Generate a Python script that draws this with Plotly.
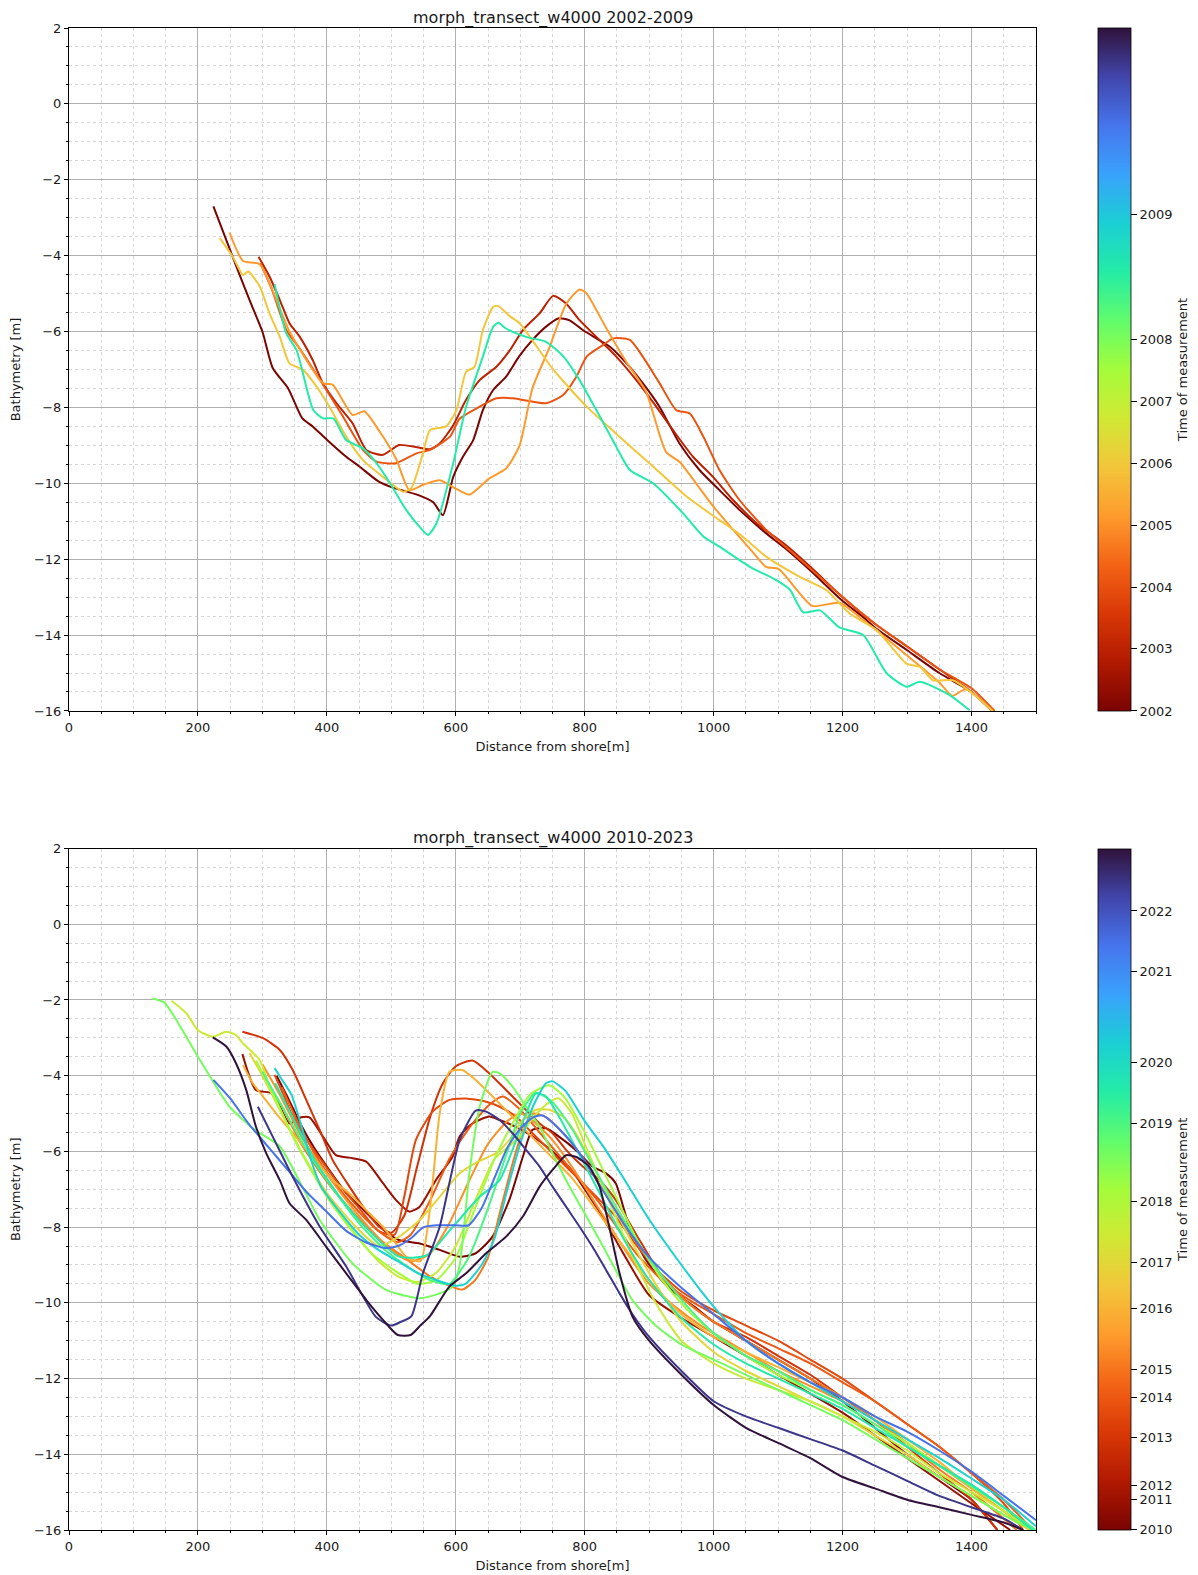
import plotly.graph_objects as go
from plotly.colors import sample_colorscale, sequential

# ---------------- DATA ----------------
top_title = "morph_transect_w4000 2002-2009"
bot_title = "morph_transect_w4000 2010-2023"

top_cbar_years = ["2002", "2003", "2004", "2005", "2006", "2007", "2008", "2009"]
top_cbar_pos = [0.0, 0.091, 0.181, 0.272, 0.363, 0.453, 0.544, 0.7265]
bot_cbar_years = ["2010", "2011", "2012", "2013", "2014", "2015", "2016", "2017",
                  "2018", "2019", "2020", "2021", "2022"]
bot_cbar_pos = [0.0, 0.0442, 0.0648, 0.1355, 0.1944, 0.2356, 0.3255, 0.3932,
                0.4816, 0.5965, 0.6863, 0.8203, 0.9087]

# ---- top panel (2002-2009) ----
t2002_x = [224, 260, 282, 300, 316, 340, 362, 378, 400, 430, 450, 480, 500, 540, 565, 580, 596, 611, 627, 642, 658, 678, 698, 719, 740, 760, 776, 797, 818, 839, 865, 890, 916, 947, 978, 1009, 1040, 1080, 1110, 1150, 1200, 1230, 1250, 1300, 1350, 1400, 1432]
t2002_y = [-2.7, -4.3, -5.25, -6.0, -6.96, -7.5, -8.29, -8.5, -8.85, -9.3, -9.55, -9.95, -10.1, -10.3, -10.5, -10.84, -9.83, -9.3, -8.86, -8.07, -7.54, -7.19, -6.66, -6.22, -5.87, -5.65, -5.7, -5.96, -6.18, -6.4, -6.84, -7.36, -7.98, -8.95, -9.65, -10.18, -10.7, -11.3, -11.7, -12.3, -13.1, -13.5, -13.8, -14.4, -15.0, -15.5, -16.0]

t2003_x = [294, 311, 327, 342, 358, 378, 394, 415, 440, 461, 487, 512, 540, 560, 575, 595, 616, 637, 663, 684, 704, 730, 751, 771, 792, 818, 849, 880, 911, 937, 968, 999, 1030, 1070, 1110, 1150, 1200, 1250, 1300, 1350, 1400, 1432]
t2003_y = [-4.03, -4.55, -5.17, -5.78, -6.14, -6.75, -7.37, -7.89, -8.42, -9.12, -9.25, -8.99, -9.05, -9.1, -8.95, -8.5, -7.8, -7.28, -6.93, -6.49, -5.96, -5.52, -5.06, -5.26, -5.7, -6.14, -6.66, -7.28, -7.98, -8.6, -9.3, -9.83, -10.44, -11.1, -11.6, -12.2, -13.0, -13.7, -14.3, -14.9, -15.5, -16.0]

t2004_x = [297, 315, 337, 360, 394, 425, 456, 477, 507, 539, 560, 591, 606, 637, 663, 689, 740, 766, 787, 803, 828, 844, 870, 890, 916, 942, 963, 984, 1009, 1040, 1080, 1120, 1160, 1200, 1250, 1300, 1350, 1400, 1436]
t2004_y = [-4.2, -4.9, -5.96, -6.5, -7.4, -8.24, -9.12, -9.43, -9.47, -9.21, -9.12, -8.77, -8.3, -7.98, -7.76, -7.76, -7.89, -7.68, -7.19, -6.66, -6.36, -6.18, -6.22, -6.66, -7.36, -8.07, -8.16, -8.77, -9.65, -10.44, -11.2, -11.8, -12.4, -13.0, -13.7, -14.3, -14.9, -15.4, -16.0]

t2005_x = [249, 270, 296, 342, 394, 409, 440, 458, 482, 507, 528, 549, 575, 600, 621, 652, 678, 699, 719, 745, 771, 792, 802, 833, 864, 895, 926, 947, 967, 998, 1029, 1060, 1081, 1101, 1153, 1195, 1237, 1288, 1350, 1370, 1391, 1432]
t2005_y = [-3.39, -4.14, -4.23, -6.0, -7.36, -7.4, -8.2, -8.1, -8.64, -9.34, -10.18, -10.04, -9.92, -10.14, -10.3, -9.87, -9.61, -9.0, -7.49, -6.43, -5.28, -4.89, -4.98, -5.9, -6.79, -7.58, -9.17, -9.43, -9.87, -10.58, -11.2, -11.8, -12.2, -12.26, -13.23, -13.15, -13.67, -14.37, -15.25, -15.6, -15.43, -16.0]

t2006_x = [234, 254, 270, 278, 296, 311, 327, 342, 363, 384, 404, 430, 456, 487, 518, 531, 549, 560, 585, 601, 616, 629, 642, 658, 666, 684, 699, 751, 803, 854, 906, 958, 1009, 1041, 1082, 1133, 1175, 1211, 1253, 1299, 1320, 1340, 1371, 1402, 1433]
t2006_y = [-3.54, -4.03, -4.51, -4.42, -4.82, -5.52, -6.14, -6.84, -7.01, -7.45, -7.98, -8.77, -9.39, -9.83, -10.22, -10.13, -9.21, -8.6, -8.5, -8.07, -7.06, -6.93, -5.96, -5.35, -5.33, -5.6, -5.78, -7.0, -7.98, -8.77, -9.56, -10.35, -10.97, -11.35, -11.94, -12.46, -12.82, -13.43, -13.87, -14.75, -14.84, -15.19, -15.19, -15.54, -16.0]

t2008_x = [319, 337, 353, 379, 394, 410, 430, 456, 477, 498, 523, 544, 557, 570, 596, 616, 642, 658, 666, 678, 709, 740, 767, 792, 818, 849, 870, 906, 953, 984, 1009, 1056, 1097, 1118, 1139, 1165, 1195, 1232, 1268, 1299, 1320, 1366, 1397]
t2008_y = [-4.75, -6.05, -6.49, -8.07, -8.29, -8.29, -8.86, -9.08, -9.47, -10.0, -10.7, -11.15, -11.36, -11.06, -9.47, -7.98, -6.66, -5.87, -5.77, -5.92, -6.14, -6.27, -6.66, -7.28, -8.07, -9.04, -9.65, -10.0, -10.8, -11.4, -11.67, -12.2, -12.55, -12.8, -13.4, -13.35, -13.8, -14.0, -15.0, -15.36, -15.23, -15.58, -15.98]

# ---- bottom panel (2010-2023) ----
b2010_x = [269, 290, 316, 342, 360, 373, 394, 414, 440, 461, 487, 507, 528, 544, 569, 595, 606, 626, 652, 668, 693, 719, 750, 780, 800, 830, 860, 900, 950, 1000, 1050, 1100, 1150, 1200, 1250, 1300, 1350, 1400, 1460]
b2010_y = [-3.43, -4.38, -4.47, -5.26, -5.1, -5.1, -5.61, -6.1, -6.18, -6.27, -6.84, -7.28, -7.59, -7.46, -6.76, -6.14, -5.6, -5.26, -5.08, -5.17, -5.35, -5.6, -6.0, -6.5, -7.0, -7.8, -8.7, -9.8, -10.4, -10.9, -11.4, -11.9, -12.4, -12.9, -13.5, -14.1, -14.7, -15.3, -16.0]

b2011_x = [322, 340, 360, 380, 400, 430, 460, 490, 512, 544, 575, 606, 631, 657, 683, 704, 719, 740, 760, 786, 812, 833, 848, 869, 895, 930, 970, 1000, 1050, 1100, 1150, 1200, 1250, 1300, 1350, 1400, 1440]
b2011_y = [-4.0, -4.6, -5.3, -5.9, -6.4, -7.1, -7.6, -8.1, -8.34, -8.43, -8.6, -8.78, -8.69, -8.25, -7.28, -6.14, -5.43, -5.39, -5.61, -5.96, -6.4, -6.58, -6.84, -7.99, -8.87, -9.6, -10.1, -10.5, -11.0, -11.5, -12.0, -12.6, -13.3, -14.0, -14.6, -15.2, -16.0]

b2012_x = [269, 301, 327, 347, 368, 389, 409, 435, 456, 481, 500, 520, 540, 560, 580, 600, 626, 652, 678, 709, 730, 750, 771, 797, 823, 848, 880, 920, 960, 1000, 1050, 1100, 1150, 1200, 1250, 1300, 1350, 1400, 1440]
b2012_y = [-2.84, -3.01, -3.32, -3.85, -4.64, -5.44, -6.23, -6.93, -7.46, -7.99, -8.15, -7.7, -6.4, -5.1, -4.2, -3.75, -3.6, -3.94, -4.38, -4.91, -5.26, -5.52, -5.96, -6.4, -6.76, -7.28, -8.2, -9.3, -10.0, -10.5, -10.9, -11.4, -11.9, -12.5, -13.1, -13.8, -14.5, -15.2, -16.0]

b2013_x = [319, 330, 345, 365, 390, 420, 450, 480, 505, 520, 538, 564, 590, 616, 647, 668, 693, 719, 745, 771, 797, 823, 848, 874, 910, 950, 1000, 1050, 1100, 1150, 1200, 1250, 1300, 1350, 1400, 1450, 1480]
b2013_y = [-3.98, -4.4, -5.0, -5.6, -6.2, -6.9, -7.5, -8.1, -8.2, -7.2, -5.7, -4.95, -4.64, -4.6, -4.69, -4.82, -5.08, -5.52, -5.96, -6.4, -6.84, -7.28, -7.72, -8.34, -9.1, -9.7, -10.2, -10.6, -11.0, -11.5, -12.0, -12.6, -13.2, -13.8, -14.5, -15.3, -16.0]

b2014_x = [330, 360, 390, 420, 450, 480, 510, 530, 560, 590, 620, 650, 673, 700, 730, 760, 790, 820, 850, 880, 920, 960, 1000, 1050, 1100, 1150, 1200, 1250, 1300, 1350, 1400, 1450, 1495]
b2014_y = [-4.3, -5.4, -6.3, -7.0, -7.6, -8.1, -8.4, -8.2, -7.3, -6.2, -5.4, -4.8, -4.55, -4.9, -5.5, -6.1, -6.7, -7.3, -8.0, -8.7, -9.4, -9.9, -10.3, -10.8, -11.2, -11.6, -12.1, -12.6, -13.2, -13.8, -14.5, -15.2, -16.0]

b2015_x = [300, 330, 360, 400, 440, 480, 520, 560, 590, 610, 630, 650, 670, 690, 705, 720, 740, 760, 790, 820, 850, 880, 920, 960, 1000, 1050, 1100, 1150, 1200, 1250, 1300, 1350, 1400, 1450, 1470]
b2015_y = [-4.0, -4.8, -5.8, -6.8, -7.6, -8.3, -8.8, -9.3, -9.55, -9.65, -9.4, -8.8, -7.5, -6.2, -5.4, -5.0, -5.1, -5.4, -6.0, -6.8, -7.6, -8.4, -9.3, -10.0, -10.5, -11.0, -11.5, -12.0, -12.5, -13.1, -13.7, -14.4, -15.0, -15.7, -16.0]

b2015b_x = [300, 330, 360, 400, 440, 470, 500, 530, 560, 590, 620, 650, 680, 700, 720, 750, 780, 810, 840, 870, 900, 940, 980, 1020, 1060, 1100, 1150, 1200, 1250, 1300, 1350, 1400, 1450, 1490]
b2015b_y = [-3.7, -4.6, -5.6, -6.6, -7.5, -8.1, -8.6, -8.9, -8.7, -7.9, -6.8, -5.8, -5.2, -5.0, -5.2, -5.7, -6.4, -7.2, -8.0, -8.8, -9.5, -10.1, -10.6, -11.0, -11.4, -11.8, -12.2, -12.6, -13.1, -13.7, -14.3, -14.9, -15.5, -16.0]

b2016_x = [270, 285, 301, 321, 347, 378, 409, 435, 461, 487, 507, 523, 545, 560, 575, 590, 610, 630, 660, 700, 740, 780, 820, 860, 900, 950, 1000, 1050, 1100, 1150, 1200, 1250, 1300, 1350, 1400, 1450, 1490]
b2016_y = [-3.72, -4.2, -4.55, -4.99, -5.52, -6.14, -6.76, -7.11, -7.55, -7.99, -8.43, -8.78, -8.9, -7.5, -5.0, -3.9, -3.85, -4.1, -4.6, -5.3, -6.0, -6.7, -7.6, -8.5, -9.4, -10.3, -10.9, -11.3, -11.7, -12.1, -12.5, -13.0, -13.6, -14.2, -14.9, -15.5, -16.0]

b2017_x = [280, 300, 330, 360, 400, 440, 480, 512, 544, 575, 606, 631, 662, 683, 704, 724, 745, 766, 786, 810, 840, 870, 910, 950, 1000, 1050, 1100, 1150, 1200, 1250, 1300, 1350, 1400, 1450, 1490]
b2017_y = [-3.4, -4.0, -5.0, -6.0, -7.1, -7.9, -8.5, -8.25, -7.81, -7.2, -6.58, -6.3, -6.05, -5.7, -5.17, -4.9, -4.9, -5.08, -5.52, -6.3, -7.3, -8.3, -9.5, -10.5, -11.3, -11.8, -12.2, -12.6, -13.0, -13.5, -14.0, -14.6, -15.1, -15.6, -16.0]

b2017b_x = [159, 182, 200, 223, 244, 259, 270, 296, 311, 330, 360, 400, 440, 480, 510, 540, 570, 600, 630, 660, 680, 700, 720, 745, 760, 780, 800, 830, 870, 910, 950, 1000, 1050, 1100, 1150, 1200, 1250, 1300, 1350, 1400, 1450, 1495]
b2017b_y = [-2.02, -2.35, -2.8, -2.97, -2.84, -2.93, -3.15, -3.59, -4.29, -5.0, -6.0, -7.2, -8.1, -8.9, -9.3, -9.45, -9.2, -8.5, -7.3, -6.2, -5.9, -5.6, -5.1, -4.7, -4.6, -5.0, -5.8, -7.0, -8.6, -10.0, -11.0, -11.6, -12.0, -12.3, -12.6, -13.0, -13.4, -13.9, -14.5, -15.0, -15.5, -16.0]

b2018_x = [290, 320, 350, 390, 430, 470, 510, 540, 570, 600, 630, 660, 690, 715, 745, 770, 800, 840, 880, 920, 960, 1000, 1050, 1100, 1150, 1200, 1250, 1300, 1350, 1400, 1450, 1495]
b2018_y = [-3.6, -4.6, -5.7, -6.9, -7.9, -8.7, -9.2, -9.5, -9.4, -8.8, -7.5, -6.2, -5.2, -4.5, -4.25, -4.6, -5.5, -6.9, -8.3, -9.4, -10.2, -10.8, -11.4, -11.9, -12.3, -12.7, -13.2, -13.7, -14.3, -14.85, -15.4, -16.0]

b2018b_x = [129, 148, 200, 249, 290, 327, 389, 440, 492, 544, 575, 595, 606, 621, 637, 657, 668, 688, 709, 730, 750, 771, 797, 823, 848, 874, 910, 950, 1000, 1050, 1100, 1150, 1200, 1250, 1300, 1350, 1400, 1450, 1495]
b2018b_y = [-1.96, -2.07, -3.5, -4.82, -5.45, -5.87, -7.81, -8.96, -9.66, -9.88, -9.75, -9.57, -9.0, -6.58, -4.82, -3.9, -3.94, -4.29, -4.82, -5.35, -6.05, -6.76, -7.55, -8.34, -9.13, -9.93, -10.6, -11.1, -11.5, -11.9, -12.3, -12.7, -13.1, -13.6, -14.1, -14.6, -15.1, -15.6, -16.0]

b2019_x = [300, 330, 370, 410, 450, 490, 530, 560, 590, 620, 650, 680, 700, 724, 750, 780, 810, 850, 890, 930, 970, 1000, 1050, 1100, 1150, 1200, 1250, 1300, 1350, 1400, 1450, 1500]
b2019_y = [-3.9, -4.8, -6.0, -7.0, -7.9, -8.6, -9.1, -9.4, -9.5, -8.8, -7.5, -6.0, -5.0, -4.45, -4.7, -5.4, -6.3, -7.5, -8.6, -9.5, -10.3, -10.8, -11.4, -11.8, -12.3, -12.7, -13.2, -13.8, -14.3, -14.85, -15.4, -16.0]

b2019b_x = [320, 350, 380, 420, 460, 512, 554, 595, 637, 668, 688, 709, 724, 740, 760, 786, 820, 860, 900, 950, 1000, 1050, 1100, 1150, 1200, 1250, 1300, 1350, 1400, 1450, 1495]
b2019b_y = [-4.2, -5.2, -6.2, -7.2, -8.0, -8.78, -8.75, -8.0, -7.2, -6.76, -5.96, -5.0, -4.47, -4.55, -5.08, -5.9, -7.0, -8.3, -9.4, -10.4, -11.1, -11.6, -12.0, -12.4, -12.8, -13.3, -13.8, -14.3, -14.8, -15.4, -16.0]

b2020_x = [319, 330, 345, 360, 375, 390, 420, 450, 480, 510, 540, 570, 600, 615, 640, 660, 680, 700, 720, 740, 750, 770, 800, 830, 860, 900, 950, 1000, 1050, 1100, 1150, 1200, 1250, 1300, 1350, 1400, 1450, 1500]
b2020_y = [-3.8, -4.1, -4.5, -5.3, -6.2, -6.9, -7.6, -8.2, -8.6, -8.9, -9.2, -9.4, -9.55, -9.5, -9.0, -8.3, -7.0, -5.8, -4.8, -4.2, -4.15, -4.4, -5.2, -5.9, -6.7, -7.8, -9.0, -10.1, -11.0, -11.6, -12.1, -12.6, -13.1, -13.6, -14.1, -14.64, -15.2, -15.9]

b2021_x = [224, 250, 280, 310, 340, 370, 400, 430, 460, 490, 510, 530, 550, 570, 600, 620, 640, 660, 680, 700, 720, 735, 760, 790, 820, 860, 900, 950, 1000, 1050, 1100, 1150, 1200, 1250, 1300, 1350, 1400, 1450, 1500]
b2021_y = [-4.11, -4.6, -5.3, -5.9, -6.5, -7.1, -7.6, -8.1, -8.4, -8.55, -8.5, -8.3, -8.0, -7.95, -7.95, -7.95, -7.5, -6.7, -5.9, -5.4, -5.1, -5.05, -5.4, -6.0, -6.8, -7.9, -8.8, -9.6, -10.3, -11.0, -11.6, -12.1, -12.5, -13.0, -13.4, -13.9, -14.46, -15.1, -15.74]

b2022_x = [293, 316, 347, 389, 430, 476, 500, 515, 531, 549, 575, 590, 606, 631, 647, 668, 688, 709, 730, 750, 771, 792, 812, 833, 854, 874, 900, 950, 1000, 1050, 1100, 1150, 1200, 1250, 1300, 1350, 1400, 1450, 1480]
b2022_y = [-4.82, -5.61, -6.67, -7.99, -9.04, -10.37, -10.6, -10.5, -10.36, -9.22, -7.99, -6.84, -5.7, -4.92, -4.95, -5.17, -5.52, -5.96, -6.4, -6.93, -7.46, -7.99, -8.52, -9.13, -9.75, -10.3, -10.9, -11.8, -12.6, -13.0, -13.3, -13.6, -13.9, -14.3, -14.7, -15.1, -15.4, -15.7, -16.0]

b2023_x = [223, 244, 259, 275, 290, 306, 327, 342, 368, 399, 430, 461, 487, 510, 530, 545, 560, 590, 616, 647, 678, 704, 730, 750, 771, 786, 807, 823, 838, 854, 874, 900, 950, 1000, 1050, 1100, 1150, 1200, 1250, 1300, 1350, 1400, 1450, 1480]
b2023_y = [-2.99, -3.23, -3.67, -4.38, -5.35, -6.05, -6.76, -7.37, -7.81, -8.52, -9.22, -9.92, -10.45, -10.85, -10.85, -10.6, -10.35, -9.57, -9.22, -8.69, -8.25, -7.72, -6.93, -6.49, -6.1, -6.14, -6.4, -6.93, -7.99, -9.22, -10.36, -11.0, -11.9, -12.7, -13.3, -13.7, -14.1, -14.6, -14.9, -15.2, -15.4, -15.6, -15.8, -16.0]

# series: (x, y, position on the colour bar 0..1)
top_series = [
    (t2002_x, t2002_y, 0.0),
    (t2003_x, t2003_y, 0.09),
    (t2004_x, t2004_y, 0.19),
    (t2005_x, t2005_y, 0.285),
    (t2006_x, t2006_y, 0.36),
    (t2008_x, t2008_y, 0.645),
]
bot_series = [
    (b2010_x, b2010_y, 0.04),
    (b2011_x, b2011_y, 0.0),
    (b2012_x, b2012_y, 0.13),
    (b2013_x, b2013_y, 0.17),
    (b2014_x, b2014_y, 0.2),
    (b2015_x, b2015_y, 0.24),
    (b2015b_x, b2015b_y, 0.27),
    (b2016_x, b2016_y, 0.32),
    (b2017_x, b2017_y, 0.39),
    (b2017b_x, b2017b_y, 0.44),
    (b2018_x, b2018_y, 0.5),
    (b2018b_x, b2018b_y, 0.55),
    (b2019_x, b2019_y, 0.6),
    (b2019b_x, b2019b_y, 0.65),
    (b2020_x, b2020_y, 0.71),
    (b2021_x, b2021_y, 0.86),
    (b2022_x, b2022_y, 0.95),
    (b2023_x, b2023_y, 1.0),
]

# ---------------- FIGURE ----------------
turbo_r = sequential.Turbo[::-1]
FONT = "DejaVu Sans"
TXT = "#1a1a1a"

fig = go.Figure()

def add_lines(series, xa, ya):
    for x, y, c in series:
        col = sample_colorscale(turbo_r, [c])[0]
        fig.add_trace(go.Scatter(x=x, y=y, mode="lines", xaxis=xa, yaxis=ya,
                                 line=dict(color=col, width=2, shape="spline", smoothing=0.6),
                                 showlegend=False, hoverinfo="skip"))

add_lines(top_series, "x", "y")
add_lines(bot_series, "x2", "y2")

top_dom = [0.5453, 1.0]
bot_dom = [0.0, 0.4537]

def add_cbar(xa, ya, dom, pos, labels):
    fig.add_trace(go.Scatter(
        x=[None], y=[None], mode="markers", xaxis=xa, yaxis=ya, showlegend=False,
        hoverinfo="skip",
        marker=dict(color=[0.5], colorscale=turbo_r, cmin=0, cmax=1, showscale=True,
                    colorbar=dict(
                        x=1.0644, xanchor="left", xpad=0, ypad=0,
                        y=(dom[0] + dom[1]) / 2, yanchor="middle",
                        len=dom[1] - dom[0], lenmode="fraction",
                        thickness=33, outlinecolor="black", outlinewidth=0.8,
                        tickmode="array", tickvals=pos, ticktext=labels,
                        ticks="outside", ticklen=6, tickcolor="black",
                        tickfont=dict(family=FONT, size=13, color=TXT),
                        title=dict(text="Time of measurement", side="right",
                                   font=dict(family=FONT, size=13, color=TXT)),
                    ))))

add_cbar("x", "y", top_dom, top_cbar_pos, top_cbar_years)
add_cbar("x2", "y2", bot_dom, bot_cbar_pos, bot_cbar_years)

def xaxis_cfg(anchor):
    return dict(domain=[0, 1], anchor=anchor, range=[0, 1500], tick0=0, dtick=200,
                automargin=False,
                showgrid=True, gridcolor="#b0b0b0", gridwidth=1,
                minor=dict(tick0=0, dtick=50, showgrid=True, gridcolor="#d6d6d6",
                           griddash="dot", gridwidth=1, ticks="outside", ticklen=2,
                           tickcolor="black"),
                ticks="outside", ticklen=4, tickcolor="black",
                showline=True, linecolor="black", linewidth=1, mirror=True,
                zeroline=False,
                tickfont=dict(family=FONT, size=13, color=TXT),
                title=dict(text="Distance from shore[m]", standoff=8,
                           font=dict(family=FONT, size=13, color=TXT)))

def yaxis_cfg(anchor, dom):
    return dict(domain=dom, anchor=anchor, range=[-16, 2], tick0=0, dtick=2,
                automargin=False,
                showgrid=True, gridcolor="#b0b0b0", gridwidth=1,
                minor=dict(tick0=0, dtick=0.5, showgrid=True, gridcolor="#d6d6d6",
                           griddash="dot", gridwidth=1, ticks="outside", ticklen=2,
                           tickcolor="black"),
                ticks="outside", ticklen=4, tickcolor="black",
                showline=True, linecolor="black", linewidth=1, mirror=True,
                zeroline=False,
                tickfont=dict(family=FONT, size=13, color=TXT),
                title=dict(text="Bathymetry [m]", standoff=10,
                           font=dict(family=FONT, size=13, color=TXT)))

# the page body has an 8px margin, so the figure is sized to fit the window
fig.update_layout(
    width=1190, height=1567,
    margin=dict(l=61, r=162, t=20, b=45, autoexpand=False),
    paper_bgcolor="white", plot_bgcolor="white",
    font=dict(family=FONT, size=13, color=TXT),
    xaxis=xaxis_cfg("y"),
    yaxis=yaxis_cfg("x", top_dom),
    xaxis2=xaxis_cfg("y2"),
    yaxis2=yaxis_cfg("x2", bot_dom),
    annotations=[
        dict(text=top_title, xref="paper", yref="paper", x=0.5, y=top_dom[1],
             xanchor="center", yanchor="bottom", yshift=-1, borderpad=0, showarrow=False,
             font=dict(family=FONT, size=16, color=TXT)),
        dict(text=bot_title, xref="paper", yref="paper", x=0.5, y=bot_dom[1],
             xanchor="center", yanchor="bottom", yshift=0, borderpad=0, showarrow=False,
             font=dict(family=FONT, size=16, color=TXT)),
    ],
)

fig.write_html("out.html")
